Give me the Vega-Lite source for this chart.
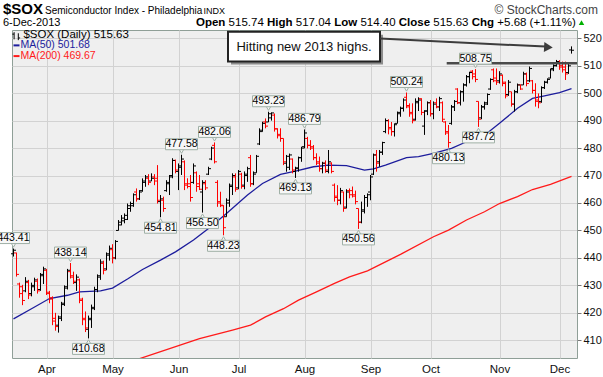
{
"$schema": "https://vega.github.io/schema/vega-lite/v6.json",
"width": 565, "height": 328,
"autosize": "none",
"padding": {"left": 12, "top": 30, "right": 26, "bottom": 19},
"background": "white",
"config": {"font": "Liberation Sans", "view": {"stroke": "#8f9f97", "fill": "#efefef"}, "axis": {"labelOverlap": false}},
"datasets": {
"bars": [
{"i":0,"o":441.5,"h":443.41,"l":440.5,"c":442.8,"d":"up"},
{"i":1,"o":441.8,"h":441.9,"l":433.2,"c":434.0,"d":"dn"},
{"i":2,"o":430.5,"h":431.0,"l":425.5,"c":427.0,"d":"dn"},
{"i":3,"o":429.5,"h":430.2,"l":422.8,"c":424.5,"d":"dn"},
{"i":4,"o":428.0,"h":433.0,"l":427.5,"c":431.5,"d":"up"},
{"i":5,"o":431.0,"h":432.0,"l":425.0,"c":426.5,"d":"dn"},
{"i":6,"o":427.0,"h":431.0,"l":426.0,"c":430.0,"d":"up"},
{"i":7,"o":429.5,"h":432.8,"l":428.0,"c":432.0,"d":"up"},
{"i":8,"o":431.5,"h":432.5,"l":427.0,"c":428.0,"d":"dn"},
{"i":9,"o":428.5,"h":434.5,"l":428.0,"c":434.0,"d":"up"},
{"i":10,"o":433.5,"h":436.8,"l":430.5,"c":436.0,"d":"up"},
{"i":11,"o":435.5,"h":436.0,"l":426.5,"c":427.5,"d":"dn"},
{"i":12,"o":427.0,"h":428.0,"l":423.5,"c":425.0,"d":"dn"},
{"i":13,"o":425.5,"h":426.0,"l":415.5,"c":417.0,"d":"dn"},
{"i":14,"o":418.0,"h":420.0,"l":413.5,"c":415.0,"d":"dn"},
{"i":15,"o":415.5,"h":419.0,"l":412.8,"c":418.5,"d":"up"},
{"i":16,"o":418.0,"h":424.0,"l":417.0,"c":423.0,"d":"up"},
{"i":17,"o":423.5,"h":430.0,"l":422.5,"c":429.5,"d":"up"},
{"i":18,"o":429.0,"h":436.0,"l":428.5,"c":435.5,"d":"up"},
{"i":19,"o":435.0,"h":438.14,"l":432.5,"c":433.5,"d":"dn"},
{"i":20,"o":433.0,"h":435.0,"l":430.5,"c":431.5,"d":"dn"},
{"i":21,"o":431.0,"h":434.0,"l":428.0,"c":433.0,"d":"up"},
{"i":22,"o":432.0,"h":432.5,"l":423.5,"c":425.0,"d":"dn"},
{"i":23,"o":424.5,"h":425.5,"l":415.5,"c":417.5,"d":"dn"},
{"i":24,"o":418.0,"h":420.5,"l":413.0,"c":414.5,"d":"dn"},
{"i":25,"o":414.0,"h":419.0,"l":410.68,"c":418.0,"d":"up"},
{"i":26,"o":417.5,"h":423.0,"l":414.5,"c":421.5,"d":"up"},
{"i":27,"o":422.0,"h":429.5,"l":421.0,"c":428.5,"d":"up"},
{"i":28,"o":428.5,"h":434.0,"l":427.5,"c":433.5,"d":"up"},
{"i":29,"o":433.0,"h":439.5,"l":432.0,"c":438.5,"d":"up"},
{"i":30,"o":438.0,"h":439.0,"l":434.0,"c":435.5,"d":"dn"},
{"i":31,"o":436.0,"h":442.0,"l":435.5,"c":441.5,"d":"up"},
{"i":32,"o":441.0,"h":444.5,"l":439.0,"c":443.5,"d":"up"},
{"i":33,"o":443.0,"h":445.0,"l":438.0,"c":440.0,"d":"dn"},
{"i":34,"o":440.0,"h":446.5,"l":439.5,"c":446.0,"d":"up"},
{"i":35,"o":450.0,"h":453.8,"l":450.0,"c":453.0,"d":"up"},
{"i":36,"o":452.0,"h":455.6,"l":451.9,"c":454.5,"d":"up"},
{"i":37,"o":453.5,"h":456.2,"l":452.6,"c":455.5,"d":"up"},
{"i":38,"o":454.0,"h":459.8,"l":453.8,"c":459.0,"d":"up"},
{"i":39,"o":458.0,"h":460.5,"l":456.8,"c":459.8,"d":"up"},
{"i":40,"o":459.0,"h":463.5,"l":458.6,"c":463.0,"d":"up"},
{"i":41,"o":464.0,"h":465.3,"l":460.5,"c":461.5,"d":"dn"},
{"i":42,"o":461.5,"h":464.7,"l":461.1,"c":464.0,"d":"up"},
{"i":43,"o":464.5,"h":468.96,"l":464.1,"c":468.0,"d":"up"},
{"i":44,"o":467.5,"h":470.2,"l":465.9,"c":469.5,"d":"up"},
{"i":45,"o":469.0,"h":470.5,"l":466.5,"c":467.5,"d":"dn"},
{"i":46,"o":468.0,"h":470.8,"l":468.0,"c":469.0,"d":"up"},
{"i":47,"o":469.5,"h":470.5,"l":466.5,"c":468.0,"d":"dn"},
{"i":48,"o":469.0,"h":473.8,"l":459.8,"c":461.0,"d":"dn"},
{"i":49,"o":460.5,"h":462.9,"l":454.81,"c":461.5,"d":"up"},
{"i":50,"o":461.0,"h":462.3,"l":456.8,"c":458.0,"d":"dn"},
{"i":51,"o":464.5,"h":468.3,"l":464.1,"c":467.5,"d":"up"},
{"i":52,"o":467.0,"h":470.2,"l":462.9,"c":469.5,"d":"up"},
{"i":53,"o":470.0,"h":476.3,"l":469.0,"c":475.5,"d":"up"},
{"i":54,"o":475.5,"h":475.8,"l":470.8,"c":472.0,"d":"dn"},
{"i":55,"o":471.5,"h":474.4,"l":464.7,"c":473.5,"d":"up"},
{"i":56,"o":473.0,"h":477.58,"l":470.2,"c":476.0,"d":"up"},
{"i":57,"o":475.0,"h":475.5,"l":464.7,"c":466.5,"d":"dn"},
{"i":58,"o":467.0,"h":469.0,"l":465.3,"c":466.0,"d":"dn"},
{"i":59,"o":467.0,"h":470.2,"l":460.5,"c":462.0,"d":"dn"},
{"i":60,"o":467.5,"h":474.4,"l":467.0,"c":473.5,"d":"up"},
{"i":61,"o":471.0,"h":471.5,"l":464.1,"c":466.0,"d":"dn"},
{"i":62,"o":467.0,"h":470.2,"l":464.7,"c":465.0,"d":"dn"},
{"i":63,"o":464.0,"h":468.3,"l":456.5,"c":467.5,"d":"up"},
{"i":64,"o":467.0,"h":468.3,"l":464.7,"c":465.5,"d":"dn"},
{"i":65,"o":470.5,"h":473.2,"l":470.2,"c":472.5,"d":"up"},
{"i":66,"o":476.0,"h":480.5,"l":475.6,"c":480.0,"d":"up"},
{"i":67,"o":481.0,"h":482.06,"l":474.4,"c":475.0,"d":"dn"},
{"i":68,"o":467.5,"h":468.3,"l":458.6,"c":460.0,"d":"dn"},
{"i":69,"o":460.5,"h":464.1,"l":458.5,"c":459.2,"d":"dn"},
{"i":70,"o":459.0,"h":459.2,"l":448.23,"c":451.0,"d":"dn"},
{"i":71,"o":455.0,"h":461.7,"l":455.0,"c":461.0,"d":"up"},
{"i":72,"o":460.0,"h":467.1,"l":458.6,"c":466.5,"d":"up"},
{"i":73,"o":466.0,"h":470.8,"l":462.9,"c":470.0,"d":"up"},
{"i":74,"o":469.5,"h":470.8,"l":464.1,"c":465.0,"d":"dn"},
{"i":75,"o":465.5,"h":472.0,"l":465.0,"c":471.5,"d":"up"},
{"i":76,"o":470.5,"h":471.0,"l":465.2,"c":466.0,"d":"dn"},
{"i":77,"o":466.5,"h":471.5,"l":465.0,"c":470.5,"d":"up"},
{"i":78,"o":470.0,"h":473.2,"l":467.7,"c":472.5,"d":"up"},
{"i":79,"o":476.5,"h":477.5,"l":465.9,"c":467.0,"d":"dn"},
{"i":80,"o":467.0,"h":471.5,"l":466.5,"c":470.5,"d":"up"},
{"i":81,"o":471.0,"h":477.5,"l":471.0,"c":477.0,"d":"up"},
{"i":82,"o":481.5,"h":487.2,"l":481.1,"c":486.5,"d":"up"},
{"i":83,"o":486.0,"h":489.6,"l":486.0,"c":489.0,"d":"up"},
{"i":84,"o":489.5,"h":490.8,"l":487.2,"c":488.0,"d":"dn"},
{"i":85,"o":489.5,"h":493.23,"l":489.5,"c":492.5,"d":"up"},
{"i":86,"o":491.0,"h":493.0,"l":490.0,"c":492.8,"d":"up"},
{"i":87,"o":492.0,"h":492.6,"l":486.0,"c":487.0,"d":"dn"},
{"i":88,"o":487.0,"h":487.2,"l":483.5,"c":484.5,"d":"dn"},
{"i":89,"o":485.0,"h":487.2,"l":482.3,"c":483.5,"d":"dn"},
{"i":90,"o":483.5,"h":483.5,"l":473.8,"c":475.0,"d":"dn"},
{"i":91,"o":474.5,"h":477.5,"l":471.4,"c":477.0,"d":"up"},
{"i":92,"o":473.0,"h":478.0,"l":472.0,"c":477.5,"d":"up"},
{"i":93,"o":476.0,"h":476.2,"l":470.8,"c":472.0,"d":"dn"},
{"i":94,"o":471.5,"h":473.2,"l":469.13,"c":472.8,"d":"up"},
{"i":95,"o":472.5,"h":476.9,"l":471.4,"c":476.5,"d":"up"},
{"i":96,"o":476.5,"h":480.5,"l":475.0,"c":480.0,"d":"up"},
{"i":97,"o":480.5,"h":486.79,"l":479.9,"c":485.5,"d":"up"},
{"i":98,"o":483.5,"h":484.1,"l":479.9,"c":481.0,"d":"dn"},
{"i":99,"o":481.0,"h":482.9,"l":479.3,"c":480.0,"d":"dn"},
{"i":100,"o":480.5,"h":481.1,"l":475.6,"c":476.5,"d":"dn"},
{"i":101,"o":476.5,"h":478.1,"l":473.8,"c":474.5,"d":"dn"},
{"i":102,"o":475.0,"h":476.9,"l":471.4,"c":472.5,"d":"dn"},
{"i":103,"o":472.5,"h":475.0,"l":470.8,"c":474.5,"d":"up"},
{"i":104,"o":474.5,"h":475.5,"l":471.0,"c":472.0,"d":"dn"},
{"i":105,"o":471.5,"h":479.3,"l":470.8,"c":475.0,"d":"up"},
{"i":106,"o":474.5,"h":474.8,"l":470.8,"c":471.5,"d":"dn"},
{"i":107,"o":466.5,"h":467.1,"l":460.5,"c":462.0,"d":"dn"},
{"i":108,"o":462.5,"h":466.5,"l":459.2,"c":461.0,"d":"dn"},
{"i":109,"o":461.0,"h":465.5,"l":459.5,"c":464.5,"d":"up"},
{"i":110,"o":464.0,"h":464.1,"l":456.8,"c":458.0,"d":"dn"},
{"i":111,"o":458.5,"h":465.0,"l":458.0,"c":464.0,"d":"up"},
{"i":112,"o":464.5,"h":465.3,"l":461.7,"c":463.0,"d":"dn"},
{"i":113,"o":464.5,"h":466.0,"l":462.0,"c":462.5,"d":"dn"},
{"i":114,"o":463.0,"h":464.5,"l":459.5,"c":460.5,"d":"dn"},
{"i":115,"o":458.0,"h":458.0,"l":450.56,"c":453.0,"d":"dn"},
{"i":116,"o":453.0,"h":460.5,"l":452.6,"c":457.5,"d":"up"},
{"i":117,"o":457.0,"h":462.9,"l":456.2,"c":462.0,"d":"up"},
{"i":118,"o":462.0,"h":463.5,"l":458.6,"c":463.0,"d":"up"},
{"i":119,"o":464.0,"h":470.2,"l":461.0,"c":469.5,"d":"up"},
{"i":120,"o":470.5,"h":478.0,"l":470.2,"c":477.5,"d":"up"},
{"i":121,"o":477.5,"h":479.3,"l":471.4,"c":474.5,"d":"dn"},
{"i":122,"o":475.0,"h":479.3,"l":473.2,"c":478.5,"d":"up"},
{"i":123,"o":478.5,"h":482.3,"l":477.5,"c":482.0,"d":"up"},
{"i":124,"o":486.0,"h":490.8,"l":485.4,"c":490.0,"d":"up"},
{"i":125,"o":490.0,"h":490.5,"l":485.0,"c":487.0,"d":"dn"},
{"i":126,"o":487.5,"h":489.5,"l":484.5,"c":486.0,"d":"dn"},
{"i":127,"o":486.0,"h":489.0,"l":484.2,"c":488.5,"d":"up"},
{"i":128,"o":489.0,"h":493.3,"l":489.0,"c":493.0,"d":"up"},
{"i":129,"o":492.5,"h":495.1,"l":491.4,"c":494.5,"d":"up"},
{"i":130,"o":494.5,"h":498.1,"l":493.3,"c":497.5,"d":"up"},
{"i":131,"o":498.5,"h":500.24,"l":494.5,"c":495.0,"d":"dn"},
{"i":132,"o":495.5,"h":496.3,"l":491.4,"c":492.5,"d":"dn"},
{"i":133,"o":493.0,"h":496.3,"l":489.0,"c":490.0,"d":"dn"},
{"i":134,"o":490.5,"h":498.1,"l":490.0,"c":497.0,"d":"up"},
{"i":135,"o":496.5,"h":498.5,"l":493.5,"c":497.5,"d":"up"},
{"i":136,"o":498.0,"h":498.1,"l":492.0,"c":493.0,"d":"dn"},
{"i":137,"o":488.0,"h":493.8,"l":484.8,"c":493.5,"d":"up"},
{"i":138,"o":493.5,"h":497.0,"l":492.0,"c":496.5,"d":"up"},
{"i":139,"o":496.5,"h":497.5,"l":491.5,"c":492.5,"d":"dn"},
{"i":140,"o":492.5,"h":497.0,"l":490.5,"c":496.0,"d":"up"},
{"i":141,"o":496.5,"h":498.1,"l":494.5,"c":495.0,"d":"dn"},
{"i":142,"o":495.0,"h":498.7,"l":493.5,"c":498.0,"d":"up"},
{"i":143,"o":496.5,"h":497.0,"l":489.5,"c":490.5,"d":"dn"},
{"i":144,"o":489.5,"h":489.8,"l":484.8,"c":486.0,"d":"dn"},
{"i":145,"o":485.5,"h":488.4,"l":480.13,"c":482.0,"d":"dn"},
{"i":146,"o":489.0,"h":495.7,"l":488.5,"c":495.0,"d":"up"},
{"i":147,"o":495.0,"h":497.5,"l":493.5,"c":497.0,"d":"up"},
{"i":148,"o":501.5,"h":501.8,"l":496.0,"c":496.5,"d":"dn"},
{"i":149,"o":496.5,"h":501.0,"l":495.5,"c":500.5,"d":"up"},
{"i":150,"o":500.5,"h":503.6,"l":496.9,"c":503.0,"d":"up"},
{"i":151,"o":503.0,"h":506.6,"l":502.4,"c":506.0,"d":"up"},
{"i":152,"o":506.0,"h":507.8,"l":503.6,"c":507.5,"d":"up"},
{"i":153,"o":508.0,"h":508.4,"l":505.0,"c":506.0,"d":"dn"},
{"i":154,"o":507.0,"h":508.75,"l":504.0,"c":505.0,"d":"dn"},
{"i":155,"o":497.0,"h":497.0,"l":487.72,"c":490.5,"d":"dn"},
{"i":156,"o":491.0,"h":495.7,"l":490.5,"c":495.0,"d":"up"},
{"i":157,"o":495.0,"h":496.9,"l":494.0,"c":496.5,"d":"up"},
{"i":158,"o":496.0,"h":499.9,"l":495.7,"c":499.5,"d":"up"},
{"i":159,"o":501.5,"h":505.4,"l":501.2,"c":505.0,"d":"up"},
{"i":160,"o":508.5,"h":509.0,"l":504.0,"c":504.5,"d":"dn"},
{"i":161,"o":505.5,"h":509.0,"l":503.0,"c":504.0,"d":"dn"},
{"i":162,"o":504.5,"h":508.0,"l":503.5,"c":507.0,"d":"up"},
{"i":163,"o":506.5,"h":506.8,"l":502.5,"c":503.5,"d":"dn"},
{"i":164,"o":504.0,"h":504.2,"l":498.1,"c":499.0,"d":"dn"},
{"i":165,"o":499.5,"h":504.8,"l":499.0,"c":504.0,"d":"up"},
{"i":166,"o":500.5,"h":500.5,"l":495.1,"c":496.0,"d":"dn"},
{"i":167,"o":496.0,"h":501.2,"l":493.3,"c":500.5,"d":"up"},
{"i":168,"o":500.5,"h":503.5,"l":500.0,"c":503.0,"d":"up"},
{"i":169,"o":503.0,"h":503.2,"l":501.2,"c":501.5,"d":"dn"},
{"i":170,"o":503.0,"h":507.8,"l":503.0,"c":507.0,"d":"up"},
{"i":171,"o":507.0,"h":507.5,"l":502.5,"c":503.5,"d":"dn"},
{"i":172,"o":504.5,"h":509.7,"l":504.0,"c":509.0,"d":"up"},
{"i":173,"o":504.5,"h":504.8,"l":499.9,"c":501.0,"d":"dn"},
{"i":174,"o":501.0,"h":503.6,"l":495.1,"c":497.0,"d":"dn"},
{"i":175,"o":497.5,"h":499.9,"l":494.5,"c":496.5,"d":"dn"},
{"i":176,"o":497.0,"h":502.5,"l":496.5,"c":502.0,"d":"up"},
{"i":177,"o":502.0,"h":504.5,"l":501.5,"c":504.0,"d":"up"},
{"i":178,"o":504.0,"h":505.4,"l":503.5,"c":505.0,"d":"up"},
{"i":179,"o":505.5,"h":509.0,"l":505.4,"c":508.5,"d":"up"},
{"i":180,"o":509.0,"h":510.5,"l":508.0,"c":510.0,"d":"up"},
{"i":181,"o":510.0,"h":512.1,"l":509.7,"c":511.5,"d":"up"},
{"i":182,"o":511.5,"h":512.0,"l":508.5,"c":509.5,"d":"dn"},
{"i":183,"o":510.0,"h":511.5,"l":507.5,"c":508.5,"d":"dn"},
{"i":184,"o":509.5,"h":511.5,"l":504.8,"c":507.0,"d":"dn"},
{"i":185,"o":507.5,"h":510.9,"l":507.0,"c":509.95,"d":"up"},
{"i":186,"o":515.74,"h":517.04,"l":514.4,"c":515.63,"d":"up"}
],
"ma50": [
{"i":0,"v":417.8},{"i":6,"v":421.5},{"i":12,"v":425.2},{"i":18,"v":426.4},{"i":22,"v":427.6},{"i":29,"v":428.0},{"i":33,"v":429.0},{"i":38,"v":432.3},{"i":43,"v":435.8},{"i":49,"v":439.2},{"i":54,"v":442.2},{"i":60,"v":446.5},{"i":65,"v":450.7},{"i":71,"v":456.2},{"i":78,"v":462.9},{"i":83,"v":467.1},{"i":89,"v":470.4},{"i":94,"v":471.6},{"i":100,"v":473.2},{"i":105,"v":473.8},{"i":111,"v":473.6},{"i":117,"v":472.0},{"i":120,"v":472.4},{"i":124,"v":473.8},{"i":131,"v":476.5},{"i":135,"v":476.9},{"i":140,"v":478.1},{"i":146,"v":479.9},{"i":151,"v":482.3},{"i":157,"v":484.7},{"i":162,"v":489.0},{"i":168,"v":494.5},{"i":173,"v":498.1},{"i":177,"v":499.0},{"i":182,"v":500.2},{"i":186,"v":501.68}
],
"ma200": [
{"i":42,"v":403.3},{"i":62,"v":410.6},{"i":73,"v":413.7},{"i":79,"v":415.5},{"i":84,"v":418.5},{"i":90,"v":421.5},{"i":95,"v":424.6},{"i":101,"v":427.6},{"i":107,"v":430.7},{"i":112,"v":433.1},{"i":118,"v":435.3},{"i":123,"v":438.0},{"i":129,"v":441.3},{"i":140,"v":447.7},{"i":145,"v":450.1},{"i":151,"v":453.8},{"i":157,"v":456.8},{"i":162,"v":459.8},{"i":168,"v":462.3},{"i":173,"v":464.9},{"i":179,"v":466.8},{"i":186,"v":469.67}
],
"notes": [
{"i":0,"v":443.41,"p":"a"},{"i":19,"v":438.14,"p":"a"},{"i":56,"v":477.58,"p":"a"},{"i":67,"v":482.06,"p":"a"},{"i":85,"v":493.23,"p":"a"},{"i":97,"v":486.79,"p":"a"},{"i":131,"v":500.24,"p":"a"},{"i":154,"v":508.75,"p":"a"},
{"i":25,"v":410.68,"p":"b"},{"i":49,"v":454.81,"p":"b"},{"i":63,"v":456.5,"p":"b"},{"i":70,"v":448.23,"p":"b"},{"i":94,"v":469.13,"p":"b"},{"i":115,"v":450.56,"p":"b"},{"i":145,"v":480.13,"p":"b"},{"i":155,"v":487.72,"p":"b"}
]
},
"layer": [
{"data": {"name": "ma50"}, "mark": {"type": "line", "color": "#1c1c9c", "strokeWidth": 1.3, "clip": true},
 "encoding": {
  "x": {"field": "i", "type": "quantitative", "scale": {"domain": [-0.5, 187.83], "nice": false, "zero": false},
   "axis": {"values": [11,33,55,75,97,119,139,162,182], "tickCount": 20, "labelExpr": "datum.value==11?'Apr':datum.value==33?'May':datum.value==55?'Jun':datum.value==75?'Jul':datum.value==97?'Aug':datum.value==119?'Sep':datum.value==139?'Oct':datum.value==162?'Nov':'Dec'", "title": null, "grid": true, "gridColor": "#d2d2d2", "domain": false, "ticks": false, "labelFontSize": 11.5, "labelColor": "#111", "labelPadding": 5, "labelOverlap": false}},
  "y": {"field": "v", "type": "quantitative", "scale": {"domain": [403.55, 523], "nice": false, "zero": false},
   "axis": {"orient": "right", "values": [410,420,430,440,450,460,470,480,490,500,510,520], "tickCount": 20, "title": null, "grid": true, "gridColor": "#d2d2d2", "domain": false, "tickSize": 4, "tickColor": "#777", "labelFontSize": 11, "labelColor": "#111", "labelPadding": 2, "labelOverlap": false}}
 }},
{"data": {"name": "ma200"}, "mark": {"type": "line", "color": "#ff1a1a", "strokeWidth": 1.3, "clip": true},
 "encoding": {"x": {"field": "i", "type": "quantitative"}, "y": {"field": "v", "type": "quantitative"}}},
{"data": {"name": "bars"}, "mark": {"type": "rule", "strokeWidth": 1},
 "encoding": {"x": {"field": "i", "type": "quantitative"}, "y": {"field": "l", "type": "quantitative"}, "y2": {"field": "h"},
  "color": {"field": "d", "type": "nominal", "scale": {"domain": ["up", "dn"], "range": ["#000000", "#ff0000"]}, "legend": null}}},
{"data": {"name": "bars"}, "mark": {"type": "rule", "strokeWidth": 1, "xOffset": -2.5, "x2Offset": 0},
 "encoding": {"x": {"field": "i", "type": "quantitative"}, "x2": {"field": "i"}, "y": {"field": "o", "type": "quantitative"},
  "color": {"field": "d", "type": "nominal", "legend": null}}},
{"data": {"name": "bars"}, "mark": {"type": "rule", "strokeWidth": 1, "xOffset": 0, "x2Offset": 2.5},
 "encoding": {"x": {"field": "i", "type": "quantitative"}, "x2": {"field": "i"}, "y": {"field": "c", "type": "quantitative"},
  "color": {"field": "d", "type": "nominal", "legend": null}}},
{"data": {"values": [{}]}, "mark": {"type": "rule", "color": "#4a4a4a", "strokeWidth": 2.5},
 "encoding": {"x": {"datum": 144.4}, "x2": {"datum": 187.83}, "y": {"datum": 510.9}}},
{"data": {"values": [{}]}, "mark": {"type": "rect", "fill": "#8c8c8c"},
 "encoding": {"x": {"datum": 72.5}, "x2": {"datum": 123.17}, "y": {"datum": 521.3}, "y2": {"datum": 510.4}}},
{"data": {"values": [{}]}, "mark": {"type": "rect", "fill": "#ffffff", "stroke": "#222222", "strokeWidth": 2},
 "encoding": {"x": {"datum": 71.5}, "x2": {"datum": 122.17}, "y": {"datum": 522.4}, "y2": {"datum": 511.5}}},
{"data": {"values": [{}]}, "mark": {"type": "text", "fontSize": 13, "align": "center", "baseline": "middle", "color": "#111"},
 "encoding": {"x": {"datum": 96.83}, "y": {"datum": 516.9}, "text": {"value": "Hitting new 2013 highs."}}},
{"data": {"values": [{}]}, "mark": {"type": "rule", "color": "#3c3c3c", "strokeWidth": 2},
 "encoding": {"x": {"datum": 122.17}, "y": {"datum": 519.9}, "x2": {"datum": 177.3}, "y2": {"datum": 516.95}}},
{"data": {"values": [{}]}, "mark": {"type": "point", "shape": "triangle-right", "size": 100, "filled": true, "color": "#3c3c3c", "opacity": 1, "angle": 3},
 "encoding": {"x": {"datum": 178.3}, "y": {"datum": 516.75}}},
{"data": {"name": "notes"}, "transform": [{"filter": "datum.p=='a'"}],
 "mark": {"type": "point", "shape": "triangle-down", "size": 24, "filled": true, "fill": "#f7f7f7", "stroke": "#9fb0a6", "strokeWidth": 1, "opacity": 1, "yOffset": -3.5},
 "encoding": {"x": {"field": "i", "type": "quantitative"}, "y": {"field": "v", "type": "quantitative"}}},
{"data": {"name": "notes"}, "transform": [{"filter": "datum.p=='b'"}],
 "mark": {"type": "point", "shape": "triangle-up", "size": 24, "filled": true, "fill": "#f7f7f7", "stroke": "#9fb0a6", "strokeWidth": 1, "opacity": 1, "yOffset": 3.5},
 "encoding": {"x": {"field": "i", "type": "quantitative"}, "y": {"field": "v", "type": "quantitative"}}},
{"data": {"name": "notes"}, "transform": [{"filter": "datum.p=='a'"}],
 "mark": {"type": "rect", "fill": "#f7f7f7", "stroke": "#9fb0a6", "strokeWidth": 1, "xOffset": -16, "x2Offset": 16, "yOffset": -16, "y2Offset": -5},
 "encoding": {"x": {"field": "i", "type": "quantitative"}, "x2": {"field": "i"}, "y": {"field": "v", "type": "quantitative"}, "y2": {"field": "v"}}},
{"data": {"name": "notes"}, "transform": [{"filter": "datum.p=='b'"}],
 "mark": {"type": "rect", "fill": "#f7f7f7", "stroke": "#9fb0a6", "strokeWidth": 1, "xOffset": -16, "x2Offset": 16, "yOffset": 5, "y2Offset": 16},
 "encoding": {"x": {"field": "i", "type": "quantitative"}, "x2": {"field": "i"}, "y": {"field": "v", "type": "quantitative"}, "y2": {"field": "v"}}},
{"data": {"name": "notes"}, "transform": [{"filter": "datum.p=='a'"}],
 "mark": {"type": "text", "fontSize": 10.5, "align": "center", "baseline": "middle", "color": "#000", "yOffset": -10.5},
 "encoding": {"x": {"field": "i", "type": "quantitative"}, "y": {"field": "v", "type": "quantitative"}, "text": {"field": "v", "type": "quantitative", "format": ".2f"}}},
{"data": {"name": "notes"}, "transform": [{"filter": "datum.p=='b'"}],
 "mark": {"type": "text", "fontSize": 10.5, "align": "center", "baseline": "middle", "color": "#000", "yOffset": 10.5},
 "encoding": {"x": {"field": "i", "type": "quantitative"}, "y": {"field": "v", "type": "quantitative"}, "text": {"field": "v", "type": "quantitative", "format": ".2f"}}},
{"data": {"values": [{}]}, "mark": {"type": "rule", "color": "#000", "strokeWidth": 1},
 "encoding": {"x": {"datum": 0.2}, "y": {"datum": 522.2}, "y2": {"datum": 519.6}}},
{"data": {"values": [{}]}, "mark": {"type": "rule", "color": "#000", "strokeWidth": 1},
 "encoding": {"x": {"datum": -0.4}, "x2": {"datum": 0.2}, "y": {"datum": 521.5}}},
{"data": {"values": [{}]}, "mark": {"type": "rule", "color": "#000", "strokeWidth": 1},
 "encoding": {"x": {"datum": 1.6}, "y": {"datum": 521.8}, "y2": {"datum": 519.3}}},
{"data": {"values": [{}]}, "mark": {"type": "rule", "color": "#000", "strokeWidth": 1},
 "encoding": {"x": {"datum": 1.6}, "x2": {"datum": 2.2}, "y": {"datum": 520.1}}},
{"data": {"values": [{}]}, "mark": {"type": "text", "fontSize": 11.5, "align": "left", "baseline": "middle", "color": "#000"},
 "encoding": {"x": {"datum": 3.3}, "y": {"datum": 521.2}, "text": {"value": "$SOX (Daily) 515.63"}}},
{"data": {"values": [{}]}, "mark": {"type": "rule", "color": "#1c1c9c", "strokeWidth": 2},
 "encoding": {"x": {"datum": 0}, "x2": {"datum": 2}, "y": {"datum": 517.4}}},
{"data": {"values": [{}]}, "mark": {"type": "text", "fontSize": 10.5, "align": "left", "baseline": "middle", "color": "#1c1c9c"},
 "encoding": {"x": {"datum": 2.3}, "y": {"datum": 517.4}, "text": {"value": "MA(50) 501.68"}}},
{"data": {"values": [{}]}, "mark": {"type": "rule", "color": "#ff1a1a", "strokeWidth": 2},
 "encoding": {"x": {"datum": 0}, "x2": {"datum": 2}, "y": {"datum": 513.5}}},
{"data": {"values": [{}]}, "mark": {"type": "text", "fontSize": 10.5, "align": "left", "baseline": "middle", "color": "#ff1a1a"},
 "encoding": {"x": {"datum": 2.3}, "y": {"datum": 513.5}, "text": {"value": "MA(200) 469.67"}}},
{"data": {"values": [{}]}, "mark": {"type": "text", "fontSize": 15, "fontWeight": "bold", "align": "left", "baseline": "alphabetic", "color": "#000"},
 "encoding": {"x": {"datum": -3.5}, "y": {"datum": 528.86}, "text": {"value": "$SOX"}}},
{"data": {"values": [{}]}, "mark": {"type": "text", "fontSize": 10, "align": "left", "baseline": "alphabetic", "color": "#000"},
 "encoding": {"x": {"datum": 10.5}, "y": {"datum": 528.86}, "text": {"value": "Semiconductor Index - Philadelphia"}}},
{"data": {"values": [{}]}, "mark": {"type": "text", "fontSize": 9, "align": "left", "baseline": "alphabetic", "color": "#000"},
 "encoding": {"x": {"datum": 63.3}, "y": {"datum": 528.86}, "text": {"value": "INDX"}}},
{"data": {"values": [{}]}, "mark": {"type": "text", "fontSize": 12, "align": "right", "baseline": "alphabetic", "color": "#444"},
 "encoding": {"x": {"datum": 194.83}, "y": {"datum": 528.86}, "text": {"value": "© StockCharts.com"}}},
{"data": {"values": [{}]}, "mark": {"type": "text", "fontSize": 11, "align": "left", "baseline": "alphabetic", "color": "#000"},
 "encoding": {"x": {"datum": -3.5}, "y": {"datum": 524.3}, "text": {"value": "6-Dec-2013"}}},
{"data": {"values": [{}]}, "mark": {"type": "text", "fontSize": 11.5, "fontWeight": "bold", "align": "left", "baseline": "alphabetic", "color": "#000"},
 "encoding": {"x": {"datum": 60.83}, "y": {"datum": 524.3}, "text": {"value": "Open"}}},
{"data": {"values": [{}]}, "mark": {"type": "text", "fontSize": 11.5, "align": "left", "baseline": "alphabetic", "color": "#000"},
 "encoding": {"x": {"datum": 71.7}, "y": {"datum": 524.3}, "text": {"value": "515.74"}}},
{"data": {"values": [{}]}, "mark": {"type": "text", "fontSize": 11.5, "fontWeight": "bold", "align": "left", "baseline": "alphabetic", "color": "#000"},
 "encoding": {"x": {"datum": 84.5}, "y": {"datum": 524.3}, "text": {"value": "High"}}},
{"data": {"values": [{}]}, "mark": {"type": "text", "fontSize": 11.5, "align": "left", "baseline": "alphabetic", "color": "#000"},
 "encoding": {"x": {"datum": 94.1}, "y": {"datum": 524.3}, "text": {"value": "517.04"}}},
{"data": {"values": [{}]}, "mark": {"type": "text", "fontSize": 11.5, "fontWeight": "bold", "align": "left", "baseline": "alphabetic", "color": "#000"},
 "encoding": {"x": {"datum": 106.9}, "y": {"datum": 524.3}, "text": {"value": "Low"}}},
{"data": {"values": [{}]}, "mark": {"type": "text", "fontSize": 11.5, "align": "left", "baseline": "alphabetic", "color": "#000"},
 "encoding": {"x": {"datum": 115.63}, "y": {"datum": 524.3}, "text": {"value": "514.40"}}},
{"data": {"values": [{}]}, "mark": {"type": "text", "fontSize": 11.5, "fontWeight": "bold", "align": "left", "baseline": "alphabetic", "color": "#000"},
 "encoding": {"x": {"datum": 128.43}, "y": {"datum": 524.3}, "text": {"value": "Close"}}},
{"data": {"values": [{}]}, "mark": {"type": "text", "fontSize": 11.5, "align": "left", "baseline": "alphabetic", "color": "#000"},
 "encoding": {"x": {"datum": 139.93}, "y": {"datum": 524.3}, "text": {"value": "515.63"}}},
{"data": {"values": [{}]}, "mark": {"type": "text", "fontSize": 11.5, "fontWeight": "bold", "align": "left", "baseline": "alphabetic", "color": "#000"},
 "encoding": {"x": {"datum": 152.73}, "y": {"datum": 524.3}, "text": {"value": "Chg"}}},
{"data": {"values": [{}]}, "mark": {"type": "text", "fontSize": 11.5, "align": "left", "baseline": "alphabetic", "color": "#000"},
 "encoding": {"x": {"datum": 161.27}, "y": {"datum": 524.3}, "text": {"value": "+5.68 (+1.11%)"}}},
{"data": {"values": [{}]}, "mark": {"type": "point", "shape": "triangle-up", "size": 30, "filled": true, "color": "#00b000", "opacity": 1},
 "encoding": {"x": {"datum": 189.33}, "y": {"datum": 525.7}}}
]
}
